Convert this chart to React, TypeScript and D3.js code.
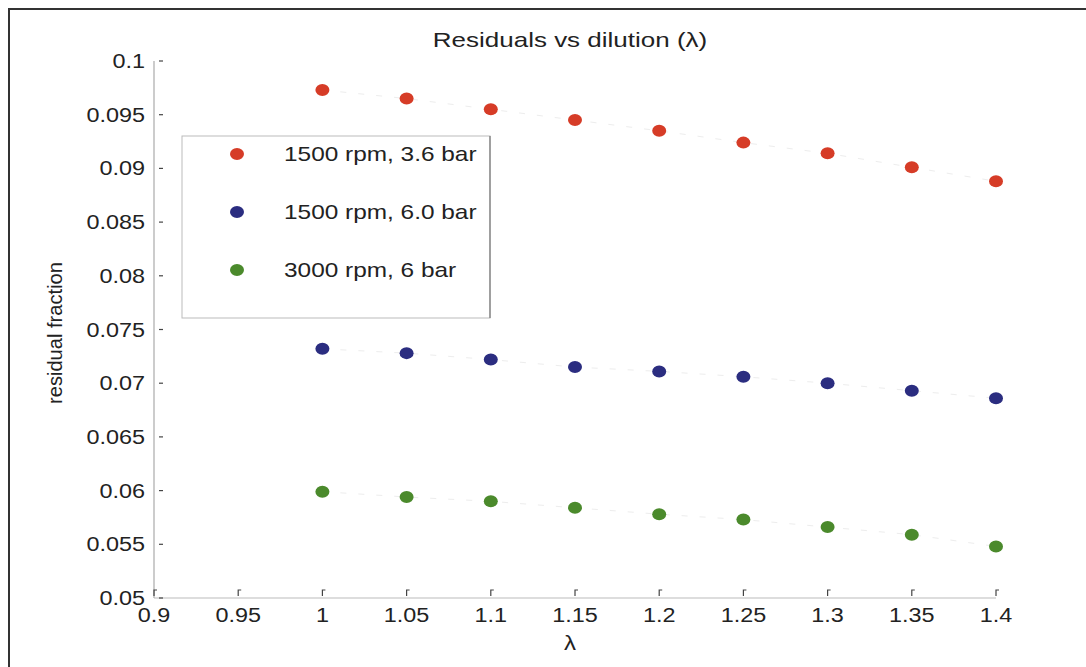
import React from "react";
import * as d3 from "d3";

const lambdas = [1.0, 1.05, 1.1, 1.15, 1.2, 1.25, 1.3, 1.35, 1.4];
const red36 = [0.0973, 0.0965, 0.0955, 0.0945, 0.0935, 0.0924, 0.0914, 0.0901, 0.0888];
const blue60 = [0.0732, 0.0728, 0.0722, 0.0715, 0.0711, 0.0706, 0.0700, 0.0693, 0.0686];
const green6 = [0.0599, 0.0594, 0.0590, 0.0584, 0.0578, 0.0573, 0.0566, 0.0559, 0.0548];
const xTicks = [0.9, 0.95, 1, 1.05, 1.1, 1.15, 1.2, 1.25, 1.3, 1.35, 1.4];
const yTicks = [0.05, 0.055, 0.06, 0.065, 0.07, 0.075, 0.08, 0.085, 0.09, 0.095, 0.1];
const seriesNames = ["1500 rpm, 3.6 bar", "1500 rpm, 6.0 bar", "3000 rpm, 6 bar"];
const seriesColors = ["#d63c27", "#2b2d80", "#4b8a2c"];
const titleText = "Residuals vs dilution (\u03bb)";
const xLabel = "\u03bb";
const yLabel = "residual fraction";

const W = 1086;
const H = 667;
const FONT = "'Liberation Sans', Arial, sans-serif";

export default function App() {
  const x = d3.scaleLinear().domain([0.9, 1.4]).range([154, 996]);
  const y = d3.scaleLinear().domain([0.05, 0.1]).range([598, 61]);
  const series = [red36, blue60, green6];
  const fmt = (v: number) => String(+v.toFixed(3));
  const line = d3
    .line<number>()
    .x((_, i) => x(lambdas[i]))
    .y((d) => y(d));

  const stretch = (tx: number, ty: number, s = 1.2) => `translate(${tx},${ty}) scale(${s},1)`;

  return (
    <svg
      width={W}
      height={H}
      style={{ position: "absolute", left: 0, top: 0, background: "#fff" }}
      fontFamily={FONT}
    >
      <rect x={0} y={0} width={W} height={H} fill="#fff" />
      {/* outer frame */}
      <rect x={9} y={9} width={W + 20} height={H + 20} fill="none" stroke="#333" strokeWidth={2} />

      {/* title */}
      <text transform={stretch(570, 47, 1.3)} textAnchor="middle" fontSize={20} fill="#222">
        {titleText}
      </text>

      {/* axes lines */}
      <line x1={x(0.9)} x2={x(0.9)} y1={y(0.1)} y2={y(0.05)} stroke="#aaa" strokeWidth={1.2} />
      <line x1={x(0.9)} x2={x(1.4)} y1={y(0.05)} y2={y(0.05)} stroke="#bbb" strokeWidth={1.2} />

      {/* y ticks */}
      {yTicks.map((t) => (
        <g key={"yt" + t}>
          <line x1={159} x2={163} y1={y(t)} y2={y(t)} stroke="#444" strokeWidth={1.2} />
          <text transform={stretch(145, y(t) + 7)} textAnchor="end" fontSize={19.5} fill="#222">
            {fmt(t)}
          </text>
        </g>
      ))}

      {/* x ticks */}
      {xTicks.map((t) => (
        <g key={"xt" + t}>
          <path
            d={`M${x(t)},${y(0.05) - 2} V${y(0.05) - 8} H${x(t) + 3}`}
            fill="none"
            stroke="#444"
            strokeWidth={1.2}
          />
          <text transform={stretch(x(t), 622)} textAnchor="middle" fontSize={19.5} fill="#222">
            {fmt(t)}
          </text>
        </g>
      ))}

      {/* axis labels */}
      <text transform={stretch(570, 650)} textAnchor="middle" fontSize={20} fill="#222">
        {xLabel}
      </text>
      <text
        transform={`translate(62,333) rotate(-90)`}
        textAnchor="middle"
        fontSize={21}
        textLength={142}
        lengthAdjust="spacingAndGlyphs"
        fill="#222"
      >
        {yLabel}
      </text>

      {/* faint connecting lines */}
      {series.map((s, si) => (
        <path
          key={"ln" + si}
          d={line(s) || ""}
          fill="none"
          stroke="#ededed"
          strokeWidth={1}
          strokeDasharray="6 12"
        />
      ))}

      {/* points */}
      {series.map((s, si) =>
        s.map((v, i) => (
          <ellipse
            key={`p${si}-${i}`}
            cx={x(lambdas[i])}
            cy={y(v)}
            rx={7}
            ry={6}
            fill={seriesColors[si]}
          />
        ))
      )}

      {/* legend */}
      <g>
        <rect x={182} y={136} width={308} height={182} fill="#fff" stroke="#bbb" strokeWidth={1} />
        <line x1={490} x2={490} y1={136} y2={318} stroke="#777" strokeWidth={1.2} />
        {seriesNames.map((n, i) => (
          <g key={"lg" + i}>
            <ellipse cx={237} cy={154 + i * 58} rx={7} ry={6} fill={seriesColors[i]} />
            <text transform={stretch(284, 161 + i * 58, 1.22)} fontSize={20} fill="#222">
              {n}
            </text>
          </g>
        ))}
      </g>
    </svg>
  );
}
